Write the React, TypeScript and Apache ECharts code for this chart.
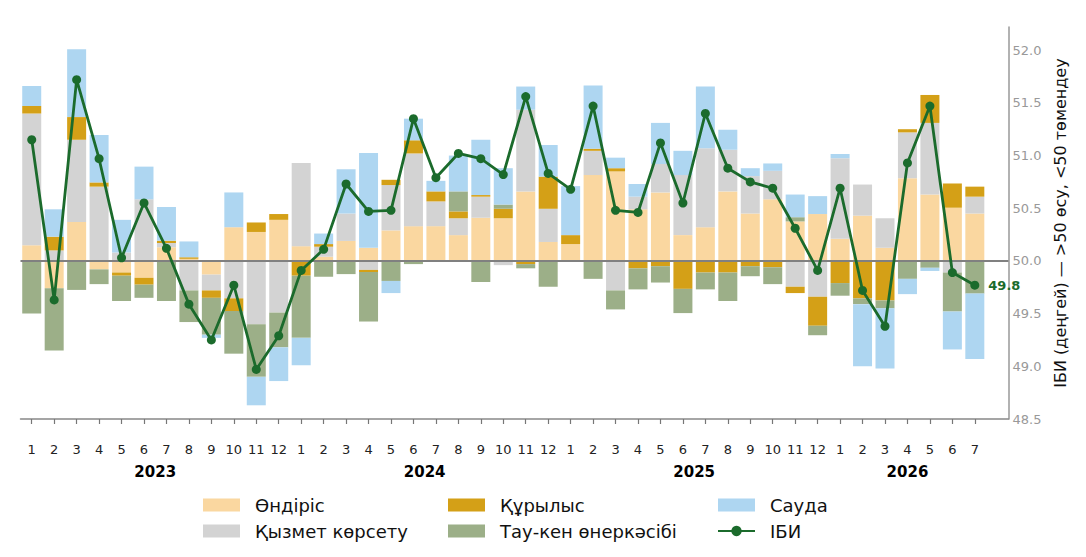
import React, { useEffect, useRef } from "react";
import * as echarts from "echarts";

// ---- Data (contributions to deviation from 50, in index points) ----
const years = ["2023", "2024", "2025", "2026"];
const monthsPerYear = [12, 12, 12, 7];
const monthLabels = [
  1, 2, 3, 4, 5, 6, 7, 8, 9, 10, 11, 12,
  1, 2, 3, 4, 5, 6, 7, 8, 9, 10, 11, 12,
  1, 2, 3, 4, 5, 6, 7, 8, 9, 10, 11, 12,
  1, 2, 3, 4, 5, 6, 7,
];

const ondiris = [
  0.15, -0.26, 0.37, -0.08, -0.11, -0.16, 0.13, 0.02, -0.13, 0.32, 0.275, 0.39,
  0.14, 0.04, 0.19, 0.125, 0.29, 0.33, 0.33, 0.245, 0.41, 0.405, 0.66, 0.18,
  0.16, 0.815, 0.85, 0.49, 0.65, 0.245, 0.32, 0.66, 0.45, 0.585, 0.375, 0.445,
  0.21, 0.43, 0.125, 0.785, 0.63, 0.505, 0.45,
];
const qyzmet = [
  1.25, 0.1, 0.78, 0.705, 0.08, 0.585, 0.04, -0.28, -0.15, -0.355, -0.6, -0.49,
  0.79, 0.095, 0.26, -0.085, 0.43, 0.69, 0.235, 0.16, 0.2, -0.04, 0.775, 0.315,
  0.0, 0.23, -0.28, 0.12, 0.27, 0.57, 0.75, 0.395, 0.355, 0.27, -0.245, -0.34,
  0.765, 0.295, 0.28, 0.435, 0.68, -0.11, 0.16,
];
const qurylys = [
  0.07, 0.13, 0.215, 0.04, -0.03, -0.065, 0.022, 0.015, -0.07, -0.12, 0.09, 0.055,
  -0.14, 0.025, 0.0, -0.02, 0.05, 0.125, 0.095, 0.065, 0.015, 0.09, -0.03, 0.305,
  0.085, 0.02, 0.03, -0.07, -0.05, -0.265, -0.11, -0.11, -0.05, -0.06, -0.06, -0.275,
  -0.21, -0.355, -0.375, 0.03, 0.265, 0.23, 0.095,
];
const tauken = [
  -0.5, -0.59, -0.275, -0.14, -0.24, -0.125, -0.38, -0.3, -0.35, -0.405, -0.5, -0.33,
  -0.59, -0.15, -0.125, -0.47, -0.19, -0.03, 0.0, 0.19, -0.2, 0.04, -0.04, -0.245,
  0.0, -0.17, -0.18, -0.2, -0.155, -0.23, -0.16, -0.27, -0.095, -0.16, 0.04, -0.09,
  -0.12, -0.055, -0.075, -0.17, -0.065, -0.37, -0.31,
];
const sauda = [
  0.19, 0.26, 0.645, 0.45, 0.31, 0.31, 0.32, 0.15, -0.03, 0.33, -0.27, -0.32,
  -0.26, 0.1, 0.42, 0.9, -0.115, 0.205, 0.1, 0.34, 0.525, 0.345, 0.22, 0.3,
  0.465, 0.6, 0.1, 0.12, 0.39, 0.23, 0.585, 0.19, 0.075, 0.07, 0.215, 0.17,
  0.04, -0.59, -0.57, -0.145, -0.03, -0.36, -0.62,
];
const ibi = [
  51.15, 49.63, 51.72, 50.97, 50.03, 50.55, 50.12, 49.59, 49.25, 49.77, 48.97, 49.29,
  49.91, 50.11, 50.73, 50.47, 50.48, 51.35, 50.79, 51.02, 50.97, 50.82, 51.56, 50.83,
  50.68, 51.47, 50.48, 50.46, 51.12, 50.55, 51.4, 50.88, 50.75, 50.69, 50.31, 49.91,
  50.69, 49.72, 49.38, 50.93, 51.47, 49.89, 49.77,
];

const BASE = 50;
const yTicks = [48.5, 49.0, 49.5, 50.0, 50.5, 51.0, 51.5, 52.0];

const C_OND = "#FAD7A0";
const C_QYZ = "#D3D3D3";
const C_QUR = "#D4A017";
const C_TAU = "#9CAF88";
const C_SAU = "#AED6F1";
const C_IBI = "#1B6B2C";

const FONT = "DejaVu Sans";

export default function App() {
  const ref = useRef<HTMLDivElement>(null);

  useEffect(() => {
    if (!ref.current) return;
    const chart = echarts.init(ref.current, undefined, { renderer: "svg" });

    const n = monthLabels.length;
    // one empty band on the right leaves room for the end label
    const categories = [...monthLabels.map((_, i) => `m${i}`), "pad"];

    const yearCenters: number[] = [];
    let start = 0;
    monthsPerYear.forEach((k) => {
      yearCenters.push(start + (k - 1) / 2);
      start += k;
    });

    const barCommon = {
      type: "bar",
      stack: "total",
      barWidth: 19,
      xAxisIndex: 0,
      yAxisIndex: 0,
    };

    const legendCommon = {
      orient: "vertical",
      padding: 0,
      itemWidth: 37,
      itemHeight: 13,
      itemGap: 8,
      selectedMode: false,
      textStyle: {
        fontFamily: FONT,
        fontSize: 18,
        lineHeight: 18,
        color: "#111",
        padding: [0, 0, 0, 10],
      },
    };

    const option: any = {
      animation: false,
      textStyle: { fontFamily: FONT },
      grid: { left: 20.5, right: 77.5, top: 27, bottom: 138, containLabel: false },
      legend: [
        { ...legendCommon, left: 203, top: 496, data: [{ name: "Өндіріс", icon: "rect" }, { name: "Қызмет көрсету", icon: "rect" }] },
        { ...legendCommon, left: 448, top: 496, data: [{ name: "Құрылыс", icon: "rect" }, { name: "Тау-кен өнеркәсібі", icon: "rect" }] },
        { ...legendCommon, left: 717, top: 496, data: [{ name: "Сауда", icon: "rect" }, { name: "ІБИ" }] },
      ],
      xAxis: [
        {
          type: "category",
          data: categories,
          position: "bottom",
          boundaryGap: true,
          splitLine: { show: false },
          axisLine: { show: true, onZero: false, lineStyle: { color: "#888", width: 1.5 } },
          axisTick: {
            show: true,
            alignWithLabel: true,
            interval: (index: number) => index < n,
            length: 5,
            lineStyle: { color: "#777", width: 1.2 },
          },
          axisLabel: {
            interval: 0,
            formatter: (_v: string, index: number) => (index < n ? String(monthLabels[index]) : ""),
            color: "#222",
            fontSize: 13,
            fontFamily: FONT,
            margin: 24,
          },
        },
        {
          type: "value",
          min: -0.5,
          max: categories.length - 0.5,
          position: "bottom",
          splitLine: { show: false },
          axisLine: { show: false },
          axisTick: { show: false },
          axisLabel: {
            customValues: yearCenters,
            formatter: (v: number) => {
              const k = yearCenters.findIndex((c) => Math.abs(c - v) < 1e-6);
              return k >= 0 ? years[k] : "";
            },
            color: "#000",
            fontWeight: "bold",
            fontSize: 15,
            fontFamily: FONT,
            margin: 45,
          },
        },
      ],
      yAxis: {
        type: "value",
        position: "right",
        min: yTicks[0] - BASE,
        max: 2.22,
        interval: 0.5,
        splitLine: { show: false },
        axisLine: { show: true, onZero: false, lineStyle: { color: "#999", width: 1.5 } },
        axisTick: { show: false },
        axisLabel: {
          color: "#999",
          fontSize: 13,
          fontFamily: FONT,
          margin: 4,
          formatter: (v: number) => {
            const val = v + BASE;
            const hit = yTicks.find((t) => Math.abs(t - val) < 1e-6);
            return hit !== undefined ? hit.toFixed(1) : "";
          },
        },
        name: "ІБИ (деңгей) — >50 өсу, <50 төмендеу",
        nameLocation: "middle",
        nameRotate: 90,
        nameGap: 39,
        nameTextStyle: { color: "#111", fontSize: 16, fontFamily: FONT },
      },
      series: [
        {
          ...barCommon,
          name: "Өндіріс",
          itemStyle: { color: C_OND },
          data: ondiris,
          markLine: {
            silent: true,
            symbol: "none",
            z: 4,
            label: { show: false },
            lineStyle: { color: "#808080", width: 1.8, type: "solid" },
            data: [{ yAxis: 0 }],
          },
        },
        { ...barCommon, name: "Қызмет көрсету", itemStyle: { color: C_QYZ }, data: qyzmet },
        { ...barCommon, name: "Құрылыс", itemStyle: { color: C_QUR }, data: qurylys },
        { ...barCommon, name: "Тау-кен өнеркәсібі", itemStyle: { color: C_TAU }, data: tauken },
        { ...barCommon, name: "Сауда", itemStyle: { color: C_SAU }, data: sauda },
        {
          type: "line",
          name: "ІБИ",
          xAxisIndex: 0,
          yAxisIndex: 0,
          z: 10,
          symbol: "circle",
          symbolSize: 9,
          lineStyle: { color: C_IBI, width: 2.8 },
          itemStyle: { color: C_IBI },
          data: ibi.map((v, i) => {
            const item: any = { value: +(v - BASE).toFixed(3) };
            if (i === ibi.length - 1) {
              item.label = {
                show: true,
                position: "right",
                distance: 9,
                formatter: () => v.toFixed(1),
                color: C_IBI,
                fontWeight: "bold",
                fontSize: 13,
                fontFamily: FONT,
              };
            }
            return item;
          }),
        },
      ],
    };

    chart.setOption(option);
    return () => chart.dispose();
  }, []);

  return (
    <div
      ref={ref}
      style={{ position: "absolute", left: 0, top: 0, width: 1086, height: 557, background: "#fff" }}
    />
  );
}
